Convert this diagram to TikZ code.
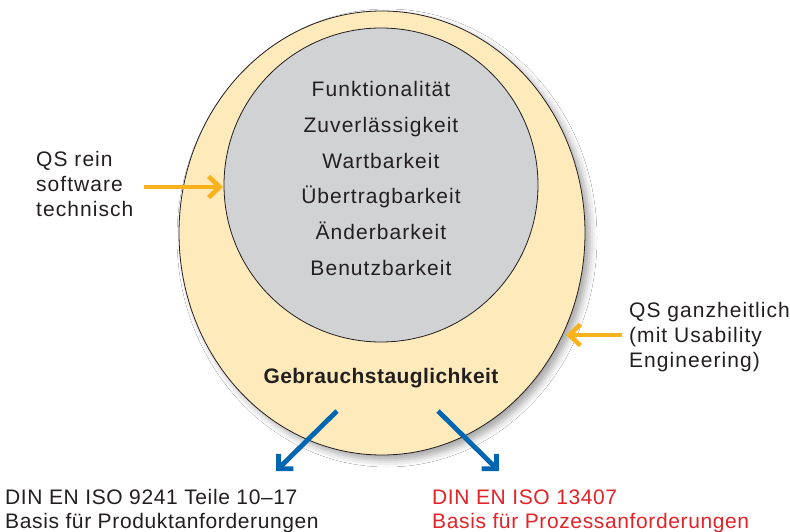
\documentclass[tikz,border=0pt]{standalone}
\usepackage{fontspec}
\setmainfont[LetterSpace=5]{Liberation Sans}
\newfontfamily\boldlbl[LetterSpace=2]{Liberation Sans Bold}
\newfontfamily\botlbl[LetterSpace=3]{Liberation Sans}
\usetikzlibrary{shapes.geometric,arrows.meta,shadows.blur}
\definecolor{outerfill}{RGB}{254,234,187}
\definecolor{innerfill}{RGB}{209,210,212}
\definecolor{arrowyellow}{RGB}{249,178,27}
\definecolor{arrowblue}{RGB}{0,102,178}
\definecolor{txtred}{RGB}{226,35,40}
\definecolor{txtdark}{RGB}{35,31,32}
\begin{document}
\begin{tikzpicture}[x=1pt,y=-1pt,
  lbl/.style={inner sep=0pt, text=txtdark, font=\fontsize{21}{25}\selectfont},
  lblw/.style={lbl, anchor=base west},
  lblc/.style={lbl, anchor=base},
  botw/.style={lblw, font=\fontsize{21}{25}\botlbl},
  redlbl/.style={botw, text=txtred},
  yarrow/.style={draw=arrowyellow, line width=4.6pt, -{Straight Barb[length=11pt,width=21pt]}},
  barrow/.style={draw=arrowblue, line width=4.8pt, -{Straight Barb[length=10.5pt,width=21pt]}}
]
\useasboundingbox (0,0) rectangle (790,532);
\fill[white] (0,0) rectangle (790,532);
% outer ellipse
\node[ellipse, draw=txtdark, line width=0.8pt, fill=outerfill, minimum width=406pt, minimum height=444pt, inner sep=0pt,
  blur shadow={shadow xshift=5pt, shadow yshift=-5pt, shadow blur radius=7pt, shadow opacity=35}] (outer) at (382,233) {};
% inner circle
\node[circle, draw=txtdark, line width=0.8pt, fill=innerfill, minimum size=314pt, inner sep=0pt] (inner) at (381,185) {};
% inner texts
\node[lblc] (t1) at (381,97) {Funktionalität};
\node[lblc] (t2) at (381,132.6) {Zuverlässigkeit};
\node[lblc] (t3) at (381,168.2) {Wartbarkeit};
\node[lblc] (t4) at (381,203.8) {Übertragbarkeit};
\node[lblc] (t5) at (381,239.4) {Änderbarkeit};
\node[lblc] (t6) at (381,275) {Benutzbarkeit};
% bold label
\node[lbl, anchor=base, font=\fontsize{21}{25}\boldlbl] (gebr) at (381,383) {Gebrauchstauglichkeit};
% left label
\node[lblw] (ql1) at (36,167) {QS rein};
\node[lblw] (ql2) at (36,191.5) {software};
\node[lblw] (ql3) at (36,216) {technisch};
% right label
\node[lblw] (qr1) at (629,317) {QS ganzheitlich};
\node[lblw] (qr2) at (629,342) {(mit Usability};
\node[lblw] (qr3) at (629,367) {Engineering)};
% bottom texts
\node[botw] (b1) at (5,504.5) {DIN EN ISO 9241 Teile 10–17};
\node[botw] (b2) at (5,528.5) {Basis für Produktanforderungen};
\node[redlbl] (b3) at (432,504.5) {DIN EN ISO 13407};
\node[redlbl] (b4) at (432,528.5) {Basis für Prozessanforderungen};
% arrows
\coordinate (ylstart) at (144,187);
\coordinate (yltip) at (223,187);
\draw[yarrow] (ylstart) -- (yltip);
\coordinate (yrstart) at (622,335);
\coordinate (yrtip) at (566,335);
\draw[yarrow] (yrstart) -- (yrtip);
\coordinate (blstart) at (337,411);
\coordinate (bltip) at (276,471);
\draw[barrow] (blstart) -- (bltip);
\coordinate (brstart) at (438,411);
\coordinate (brtip) at (499,471);
\draw[barrow] (brstart) -- (brtip);
\end{tikzpicture}
\end{document}
